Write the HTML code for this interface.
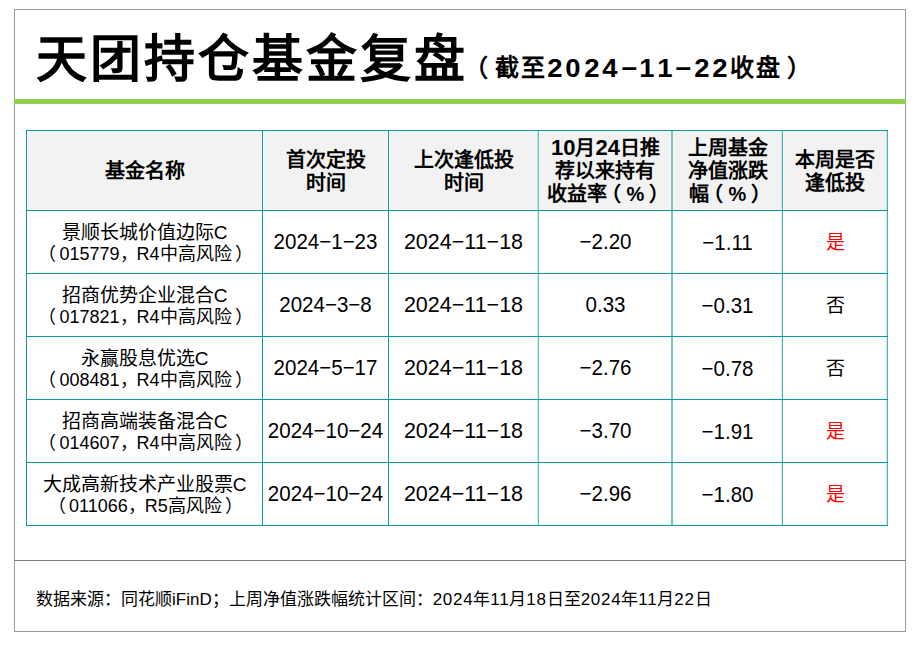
<!DOCTYPE html>
<html lang="zh-CN"><head><meta charset="utf-8">
<style>
html,body{margin:0;padding:0;background:#fff;}
body{text-spacing-trim:space-all;width:916px;height:648px;position:relative;overflow:hidden;font-family:"Liberation Sans",sans-serif;color:#000;}
.abs{position:absolute;}
.box{left:14px;top:9px;width:890px;height:621px;border:1px solid #999;}
.green{left:14px;top:99px;width:892px;height:5px;background:#92D050;}
.hl{position:absolute;height:1px;background:#0a9898;left:26px;width:862px;}
.vl{position:absolute;width:1px;background:#0a9898;top:130px;height:396px;}
.hdr{position:absolute;left:27px;top:131px;width:860px;height:79px;background:#f2f2f2;}
.cell{position:absolute;display:flex;align-items:center;justify-content:center;text-align:center;white-space:nowrap;}
.h{font-weight:bold;font-size:20px;line-height:23px;padding-top:2px;box-sizing:border-box;}
.name{font-size:19px;line-height:21px;padding-top:2px;box-sizing:border-box;}
.n2{font-size:18px;position:relative;left:1px;}
.p1{margin-right:3px;}
.p2{margin-left:3px;}
.cm{margin-right:-1px;}
.d{font-size:21.5px;transform:scaleX(0.955);box-sizing:border-box;}
.c5{padding-top:2px;}
.c3{transform:none;}
.yn{font-size:19px;padding-bottom:3px;box-sizing:border-box;}
.hd{font-size:22px;line-height:20px;}
.lp{position:relative;left:-6px;}
.rp{position:relative;left:5px;}
.red{color:#f00;}
.title{left:36px;top:30px;font-size:51px;font-weight:bold;letter-spacing:3px;line-height:60px;}
.sub{left:0;top:0;}
.sg{position:absolute;top:53px;line-height:30px;font-weight:bold;}
.sg.c{font-size:24px;}
.sg.dg{font-size:25px;transform:scaleX(1.1);}
.ds{letter-spacing:0.7px;}
.foot{left:36px;top:590px;font-size:17px;line-height:20px;}
</style></head><body>
<div class="abs box"></div>
<div class="abs green"></div>
<div class="abs title">天团持仓基金复盘</div>
<div class="abs sub"><span class="sg c" style="left:463.6px">（</span><span class="sg c" style="left:495.3px">截</span><span class="sg c" style="left:521.0px">至</span><span class="sg dg" style="left:547.8px">2</span><span class="sg dg" style="left:566.4px">0</span><span class="sg dg" style="left:584.8px">2</span><span class="sg dg" style="left:603.1px">4</span><span class="sg dg" style="left:622.2px">−</span><span class="sg dg" style="left:640.4px">1</span><span class="sg dg" style="left:657.6px">1</span><span class="sg dg" style="left:676.0px">−</span><span class="sg dg" style="left:695.2px">2</span><span class="sg dg" style="left:713.4px">2</span><span class="sg c" style="left:730.4px">收</span><span class="sg c" style="left:756.0px">盘</span><span class="sg c" style="left:786.5px">）</span></div>

<div class="hdr"></div>
<div class="abs" style="left:27px;top:131px;width:860px;height:1px;background:#fdf6f6"></div><div class="abs" style="left:27px;top:209px;width:860px;height:1px;background:#fdf6f6"></div><div class="abs" style="left:27px;top:131px;width:1px;height:79px;background:#fdf6f6"></div><div class="abs" style="left:261px;top:131px;width:1px;height:79px;background:#fdf6f6"></div><div class="abs" style="left:263px;top:131px;width:1px;height:79px;background:#fdf6f6"></div><div class="abs" style="left:387px;top:131px;width:1px;height:79px;background:#fdf6f6"></div><div class="abs" style="left:389px;top:131px;width:1px;height:79px;background:#fdf6f6"></div><div class="abs" style="left:539px;top:131px;width:1px;height:79px;background:#fdf6f6"></div><div class="abs" style="left:670px;top:131px;width:1px;height:79px;background:#fdf6f6"></div><div class="abs" style="left:673px;top:131px;width:1px;height:79px;background:#fdf6f6"></div><div class="abs" style="left:783px;top:131px;width:1px;height:79px;background:#fdf6f6"></div>
<div class="vl" style="left:26px"></div>
<div class="vl" style="left:262px"></div>
<div class="vl" style="left:388px"></div>
<div class="vl" style="left:538px;background:#66c0c0"></div><div class="vl" style="left:537px;top:131px;height:394px;background:rgba(10,152,152,0.2)"></div>
<div class="vl" style="left:671px;width:2px;background:#75c6c6"></div>
<div class="vl" style="left:782px;background:#47b4b4"></div><div class="vl" style="left:781px;top:131px;height:394px;background:rgba(10,152,152,0.17)"></div>
<div class="vl" style="left:887px;background:#47b4b4"></div><div class="vl" style="left:886px;top:131px;height:394px;background:rgba(10,152,152,0.17)"></div>
<div class="hl" style="top:130px"></div>
<div class="hl" style="top:210px"></div>
<div class="hl" style="top:273px"></div>
<div class="hl" style="top:336px"></div>
<div class="hl" style="top:399px"></div>
<div class="hl" style="top:462px"></div>
<div class="hl" style="top:525px"></div>

<!-- header -->
<div class="cell h" style="left:27px;top:131px;width:235px;height:79px"><div>基金名称</div></div>
<div class="cell h" style="left:263px;top:131px;width:125px;height:79px"><div>首次定投<br>时间</div></div>
<div class="cell h" style="left:389px;top:131px;width:149px;height:79px"><div>上次逢低投<br>时间</div></div>
<div class="cell h" style="left:539px;top:131px;width:133px;height:79px"><div><span class="hd">10</span>月<span class="hd">24</span>日推<br>荐以来持有<br>收益率<span class="lp">（</span>%<span class="rp">）</span></div></div>
<div class="cell h" style="left:673px;top:131px;width:109px;height:79px"><div>上周基金<br>净值涨跌<br>幅<span class="lp">（</span>%<span class="rp">）</span></div></div>
<div class="cell h" style="left:783px;top:131px;width:104px;height:79px"><div>本周是否<br>逢低投</div></div>

<!-- row 1 -->
<div class="cell name" style="left:27px;top:211px;width:235px;height:62px"><div>景顺长城价值边际C<br><span class="n2"><span class="p1">（</span>015779<span class="cm">，</span>R4中高风险<span class="p2">）</span></span></div></div>
<div class="cell d" style="left:263px;top:211px;width:125px;height:62px">2024−1−23</div>
<div class="cell d c3" style="left:389px;top:211px;width:149px;height:62px">2024−11−18</div>
<div class="cell d" style="left:539px;top:211px;width:133px;height:62px">−2.20</div>
<div class="cell d c5" style="left:673px;top:211px;width:109px;height:62px">−1.11</div>
<div class="cell yn red" style="left:783px;top:211px;width:104px;height:62px">是</div>

<!-- row 2 -->
<div class="cell name" style="left:27px;top:274px;width:235px;height:62px"><div>招商优势企业混合C<br><span class="n2"><span class="p1">（</span>017821<span class="cm">，</span>R4中高风险<span class="p2">）</span></span></div></div>
<div class="cell d" style="left:263px;top:274px;width:125px;height:62px">2024−3−8</div>
<div class="cell d c3" style="left:389px;top:274px;width:149px;height:62px">2024−11−18</div>
<div class="cell d" style="left:539px;top:274px;width:133px;height:62px">0.33</div>
<div class="cell d c5" style="left:673px;top:274px;width:109px;height:62px">−0.31</div>
<div class="cell yn" style="left:783px;top:274px;width:104px;height:62px">否</div>

<!-- row 3 -->
<div class="cell name" style="left:27px;top:337px;width:235px;height:62px"><div>永赢股息优选C<br><span class="n2"><span class="p1">（</span>008481<span class="cm">，</span>R4中高风险<span class="p2">）</span></span></div></div>
<div class="cell d" style="left:263px;top:337px;width:125px;height:62px">2024−5−17</div>
<div class="cell d c3" style="left:389px;top:337px;width:149px;height:62px">2024−11−18</div>
<div class="cell d" style="left:539px;top:337px;width:133px;height:62px">−2.76</div>
<div class="cell d c5" style="left:673px;top:337px;width:109px;height:62px">−0.78</div>
<div class="cell yn" style="left:783px;top:337px;width:104px;height:62px">否</div>

<!-- row 4 -->
<div class="cell name" style="left:27px;top:400px;width:235px;height:62px"><div>招商高端装备混合C<br><span class="n2"><span class="p1">（</span>014607<span class="cm">，</span>R4中高风险<span class="p2">）</span></span></div></div>
<div class="cell d" style="left:263px;top:400px;width:125px;height:62px">2024−10−24</div>
<div class="cell d c3" style="left:389px;top:400px;width:149px;height:62px">2024−11−18</div>
<div class="cell d" style="left:539px;top:400px;width:133px;height:62px">−3.70</div>
<div class="cell d c5" style="left:673px;top:400px;width:109px;height:62px">−1.91</div>
<div class="cell yn red" style="left:783px;top:400px;width:104px;height:62px">是</div>

<!-- row 5 -->
<div class="cell name" style="left:27px;top:463px;width:235px;height:62px"><div>大成高新技术产业股票C<br><span class="n2"><span class="p1">（</span>011066<span class="cm">，</span>R5高风险<span class="p2">）</span></span></div></div>
<div class="cell d" style="left:263px;top:463px;width:125px;height:62px">2024−10−24</div>
<div class="cell d c3" style="left:389px;top:463px;width:149px;height:62px">2024−11−18</div>
<div class="cell d" style="left:539px;top:463px;width:133px;height:62px">−2.96</div>
<div class="cell d c5" style="left:673px;top:463px;width:109px;height:62px">−1.80</div>
<div class="cell yn red" style="left:783px;top:463px;width:104px;height:62px">是</div>

<div class="abs" style="left:14px;top:560px;width:892px;height:1px;background:#808080"></div>
<div class="abs foot">数据来源：同花顺iFinD；上周净值涨跌幅统计区间：<span class="ds">2024</span>年<span class="ds">11</span>月<span class="ds">18</span>日至<span class="ds">2024</span>年<span class="ds">11</span>月<span class="ds">22</span>日</div>
</body></html>
